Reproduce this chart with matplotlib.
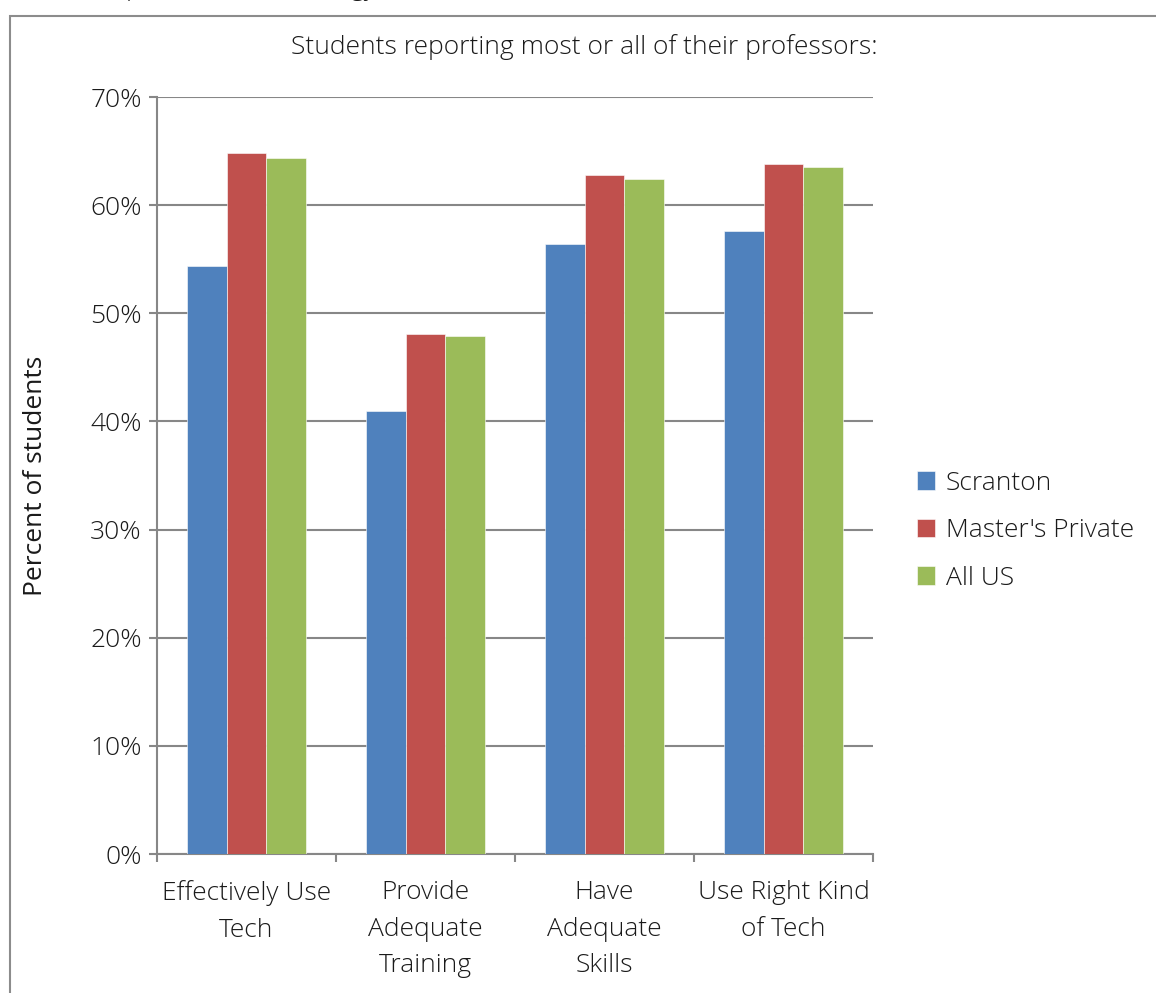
import matplotlib
matplotlib.use('Agg')
import matplotlib.pyplot as plt
from matplotlib.patches import Rectangle
from matplotlib.ticker import MultipleLocator, FixedLocator, PercentFormatter
import numpy as np

categories = ['Effectively Use\nTech', 'Provide\nAdequate\nTraining',
              'Have\nAdequate\nSkills', 'Use Right Kind\nof Tech']
scranton = [54.4, 41.0, 56.4, 57.6]
masters_private = [64.8, 48.1, 62.8, 63.8]
all_us = [64.4, 47.9, 62.4, 63.5]
series_names = ['Scranton', "Master's Private", 'All US']
colors = ['#4F81BD', '#C0504D', '#9BBB59']

plt.rcParams['font.family'] = ['Open Sans', 'DejaVu Sans']
plt.rcParams['font.weight'] = 'light'
grid_col = '#878787'
txt_col = '#1a1a1a'
fs = 19

fig = plt.figure(figsize=(11.56, 9.93), dpi=100)
ax = fig.add_axes([157 / 1156, 1 - 854 / 993, (873 - 157) / 1156, (854 - 97) / 993])

x = np.arange(len(categories))
w = 0.222
for i, (vals, name) in enumerate(zip([scranton, masters_private, all_us], series_names)):
    ax.bar(x + (i - 1) * w, vals, width=w, color=colors[i], label=name,
           edgecolor='white', linewidth=0.4, zorder=3)

ax.set_xlim(-0.5, len(categories) - 0.5)
ax.set_ylim(0, 70)
ax.yaxis.set_major_locator(MultipleLocator(10))
ax.yaxis.set_major_formatter(PercentFormatter(decimals=0))
ax.grid(axis='y', color=grid_col, linewidth=1.5, zorder=0)

for s in ['top', 'right']:
    ax.spines[s].set_visible(False)
for s in ['left', 'bottom']:
    ax.spines[s].set_color(grid_col)
    ax.spines[s].set_linewidth(1.5)

ax.set_xticks(x)
ax.set_xticklabels(categories, fontsize=fs, color=txt_col, linespacing=1.6)
ax.xaxis.set_minor_locator(FixedLocator(np.arange(-0.5, len(categories), 1.0)))
ax.tick_params(axis='x', which='major', length=0, pad=19)
ax.tick_params(axis='x', which='minor', length=6, width=1.5, color=grid_col)
ax.tick_params(axis='y', length=6, width=1.5, color=grid_col, labelsize=fs,
               labelcolor=txt_col, pad=5)

ax.set_ylabel('Percent of students', fontsize=fs, color=txt_col, labelpad=30)
fig.text(584 / 1156, 1 - 47 / 993, 'Students reporting most or all of their professors:',
         ha='center', va='center', fontsize=fs, color=txt_col)

leg = ax.legend(loc='center left', bbox_to_anchor=(1.061, 0.427), frameon=False,
                fontsize=fs, handlelength=0.7, handleheight=0.7, handletextpad=0.4,
                labelspacing=0.85, borderpad=0, borderaxespad=0, labelcolor=txt_col)

# outer chart frame, cut at right and bottom
fig.patches.append(Rectangle((10 / 1156, -0.05), 1.2, 1 - 16 / 993 + 0.05,
                             transform=fig.transFigure, fill=False,
                             edgecolor='#8c8c8c', linewidth=1.5))
# clipped descenders of the heading above the chart
fig.text(126 / 1156, 1 + 5 / 993, 'p', fontsize=fs, color=txt_col, va='baseline')
fig.text(350 / 1156, 1 + 5 / 993, 'gy', fontsize=fs, color=txt_col, va='baseline')

fig.savefig('out.png', dpi=100)
